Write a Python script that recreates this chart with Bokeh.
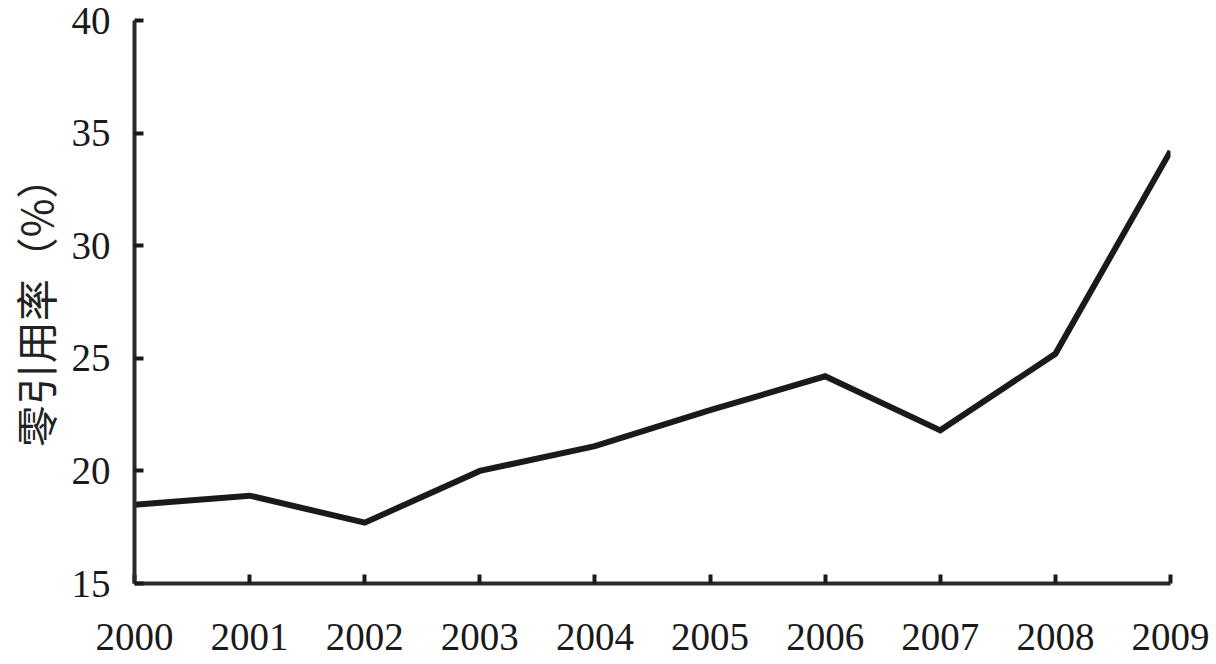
from bokeh.plotting import figure
from bokeh.models import Range1d, FixedTicker
from bokeh.embed import file_html
from bokeh.resources import INLINE

years = [2000, 2001, 2002, 2003, 2004, 2005, 2006, 2007, 2008, 2009]
rate = [18.5, 18.9, 17.7, 20.0, 21.1, 22.7, 24.2, 21.8, 25.2, 34.2]
y_ticks = [15, 20, 25, 30, 35, 40]
y_label = "零引用率（%）"

p = figure(width=1216, height=664, output_backend="svg", toolbar_location=None,
           x_range=Range1d(2000, 2009), y_range=Range1d(15, 40),
           min_border_left=133, min_border_right=46, min_border_top=20, min_border_bottom=81)
p.outline_line_color = None
p.grid.visible = False
p.background_fill_color = "white"

p.line(years, rate, line_width=6, line_color="#1a1a1a", line_join="miter")

for ax in (p.xaxis[0], p.yaxis[0]):
    ax.axis_line_width = 4
    ax.axis_line_color = "#2a2a2a"
    ax.major_tick_line_width = 4
    ax.major_tick_line_color = "#1a1a1a"
    ax.major_tick_in = 9
    ax.major_tick_out = 0
    ax.minor_tick_line_color = None
    ax.major_label_text_font = "Liberation Serif"
    ax.major_label_text_font_size = "39px"
    ax.major_label_text_color = "#1a1a1a"

p.xaxis.ticker = FixedTicker(ticks=years)
p.yaxis.ticker = FixedTicker(ticks=y_ticks)
p.xaxis.major_label_standoff = 40
p.yaxis.major_label_standoff = 24

p.yaxis.axis_label = y_label
p.yaxis.axis_label_text_font = "Noto Sans CJK SC"
p.yaxis.axis_label_text_font_size = "42px"
p.yaxis.axis_label_text_font_style = "normal"
p.yaxis.axis_label_text_color = "#222222"
p.yaxis.axis_label_standoff = 4

open("out.html", "w").write(file_html(p, INLINE))
